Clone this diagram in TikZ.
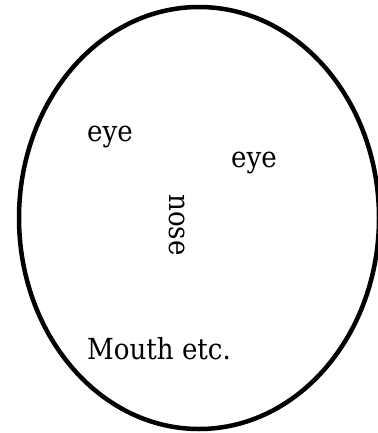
\documentclass[tikz,border=0pt]{standalone}
\usepackage{fontspec}
\setmainfont{DejaVu Serif Condensed}
\usetikzlibrary{
    positioning,
    shapes.geometric
}
\tikzset{
  face/.style  = {draw, ellipse, line width=4.5pt, inner sep=0pt,
                  minimum width=360pt, minimum height=422pt},
  part/.style  = {inner sep=0pt, anchor=base west,
                  font=\fontsize{29}{35}\selectfont}
}

\begin{document}
\begin{tikzpicture}[x=1pt, y=-1pt]
    \useasboundingbox (0,0) rectangle (377,433);
    \node[face] (F) at (199,218) {};

    \node[part] (eL) at (87,141) {eye};
    \node[part] (eR) at (231,167) {eye};
    \node[part, anchor=center, rotate=-90] (N) at (177,225) {nose};
    \node[part] (M) at (87,359) {Mouth etc.};
  \end{tikzpicture}
\end{document}
